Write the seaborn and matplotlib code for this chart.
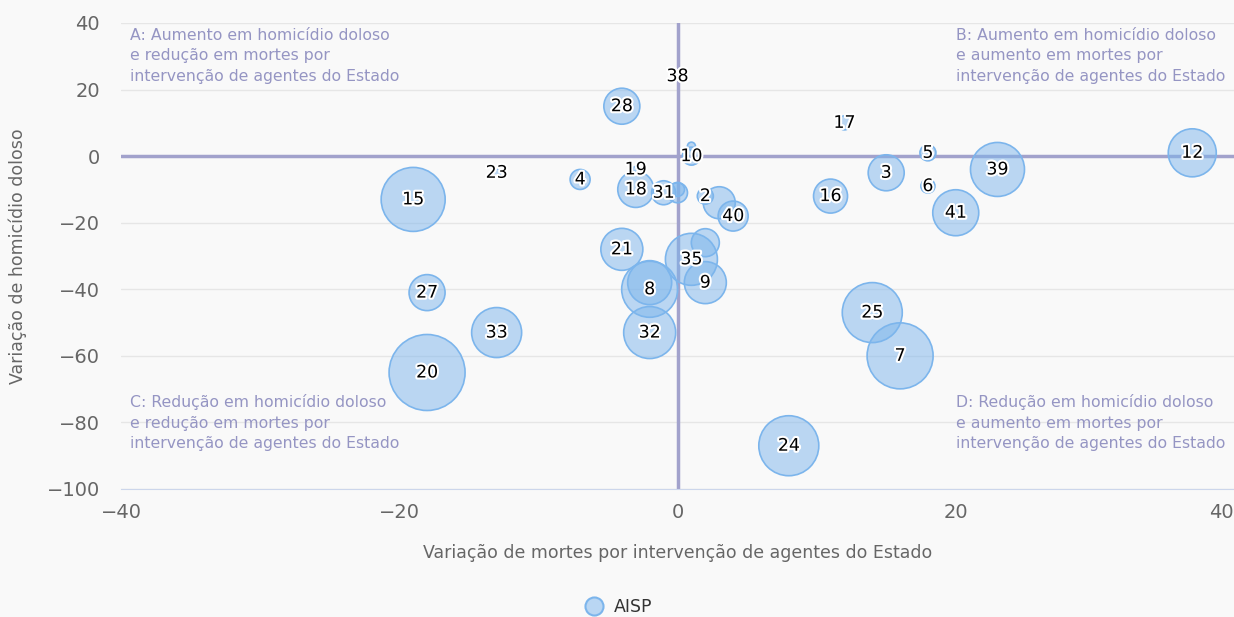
import numpy as np
import pandas as pd
import seaborn as sns
import matplotlib.pyplot as plt
import matplotlib.patheffects as pe
from matplotlib.lines import Line2D

# AISP data; "" = label hidden in the original
aisp = ["38", "28", "10", "", "19", "4", "18", "31", "", "", "2", "", "40",
        "23", "15", "17", "5", "3", "6", "16", "39", "41", "12", "21", "8",
        "", "32", "35", "", "9", "27", "33", "20", "25", "7", "24"]
var_mortes = [0, -4, 1, 1, -3, -7, -3, -1, 0, 0, 2, 3, 4,
              -13, -19, 12, 18, 15, 18, 11, 23, 20, 37, -4, -2,
              -2, -2, 1, 2, 2, -18, -13, -18, 14, 16, 8]
var_homicidio = [24, 15, 0, 3, -4, -7, -10, -11, -11, -10, -12, -14, -18,
                 -5, -13, 10, 1, -5, -9, -12, -4, -17, 1, -28, -40,
                 -38, -53, -31, -26, -38, -41, -53, -65, -47, -60, -87]
tamanho = [9, 324, 81, 16, 9, 100, 324, 144, 100, 49, 64, 256, 225,
           16, 1024, 49, 64, 324, 49, 289, 729, 529, 576, 441, 784,
           484, 676, 676, 196, 441, 324, 625, 1444, 900, 1089, 900]

quad_a = "A: Aumento em homicídio doloso\ne redução em mortes por\nintervenção de agentes do Estado"
quad_b = "B: Aumento em homicídio doloso\ne aumento em mortes por\nintervenção de agentes do Estado"
quad_c = "C: Redução em homicídio doloso\ne redução em mortes por\nintervenção de agentes do Estado"
quad_d = "D: Redução em homicídio doloso\ne aumento em mortes por\nintervenção de agentes do Estado"

df = pd.DataFrame({'AISP': aisp, 'x': var_mortes, 'y': var_homicidio, 'z': tamanho})

sns.set_style('white')
plt.rcParams['font.family'] = ['DejaVu Sans']

bg = '#f9f9f9'
fig = plt.figure(figsize=(12.34, 6.17), dpi=100, facecolor=bg)
ax = fig.add_axes([121 / 1234, 1 - 489 / 617, 1 - 121 / 1234, (489 - 23) / 617])
ax.set_facecolor(bg)

# radius px -> marker area pt^2 : s = (2 r 0.72)^2 = 2.0736 r^2
k = 2.0736
sns.scatterplot(data=df, x='x', y='y', size='z',
                sizes=(k * min(tamanho), k * max(tamanho)),
                size_norm=(min(tamanho), max(tamanho)),
                color='#7cb5ec', alpha=0.5, edgecolor='none', legend=False, ax=ax, zorder=3)
sns.scatterplot(data=df, x='x', y='y', size='z',
                sizes=(k * min(tamanho), k * max(tamanho)),
                size_norm=(min(tamanho), max(tamanho)),
                facecolor='none', edgecolor='#7cb5ec', linewidth=1.2, legend=False, ax=ax, zorder=4)

for _, r in df.iterrows():
    if r['AISP']:
        ax.text(r['x'], r['y'], r['AISP'], ha='center', va='center', fontsize=12.5,
                color='black', zorder=6,
                path_effects=[pe.withStroke(linewidth=3, foreground='white')])

ax.set_xlim(-40, 40)
ax.set_ylim(-100, 40)
ax.set_xticks([-40, -20, 0, 20, 40])
ax.set_yticks([-100, -80, -60, -40, -20, 0, 20, 40])
ax.set_xticklabels(['−40', '−20', '0', '20', '40'])
ax.set_yticklabels(['−100', '−80', '−60', '−40', '−20', '0', '20', '40'])
ax.get_xticklabels()[-1].set_ha('right')
ax.grid(axis='y', color='#e6e6e6', linewidth=1, zorder=0)
ax.set_axisbelow(True)
for s in ['top', 'right', 'left']:
    ax.spines[s].set_visible(False)
ax.spines['bottom'].set_color('#ccd6eb')
ax.tick_params(axis='x', colors='#ccd6eb', length=8, width=1, labelcolor='#666666',
               labelsize=14, pad=2)
ax.tick_params(axis='y', length=0, labelcolor='#666666', labelsize=14, pad=15)
ax.axhline(0, color='#a2a2cc', linewidth=2.5, zorder=2)
ax.axvline(0, color='#a2a2cc', linewidth=2.5, zorder=2)

ax.set_xlabel('Variação de mortes por intervenção de agentes do Estado', fontsize=12.5,
              color='#666666')
ax.set_ylabel('Variação de homicídio doloso', fontsize=12.5, color='#666666')
ax.xaxis.set_label_coords(0.5, -(553 - 489) / 466, transform=ax.transAxes)
ax.yaxis.set_label_coords(-(121 - 18) / 1113, 0.5, transform=ax.transAxes)
ax.xaxis.label.set_va('center')
ax.yaxis.label.set_va('center')

qc = '#9595c3'
qkw = dict(fontsize=11.3, color=qc, linespacing=1.45, zorder=5)
ax.text(-39.35, 38.5, quad_a, ha='left', va='top', **qkw)
ax.text(20.05, 38.5, quad_b, ha='left', va='top', **qkw)
ax.text(-39.35, -71.5, quad_c, ha='left', va='top', **qkw)
ax.text(20.05, -71.5, quad_d, ha='left', va='top', **qkw)

handle = Line2D([], [], marker='o', linestyle='none', markersize=13,
                markerfacecolor='#b9d6f3', markeredgecolor='#7cb5ec', markeredgewidth=1.5)
fig.legend([handle], ['AISP'], loc='center', bbox_to_anchor=(0.498, 1 - 607 / 617),
           frameon=False, fontsize=12.5, handletextpad=0.15, labelcolor='#333333')

fig.savefig('out.png', dpi=100, facecolor=bg)
